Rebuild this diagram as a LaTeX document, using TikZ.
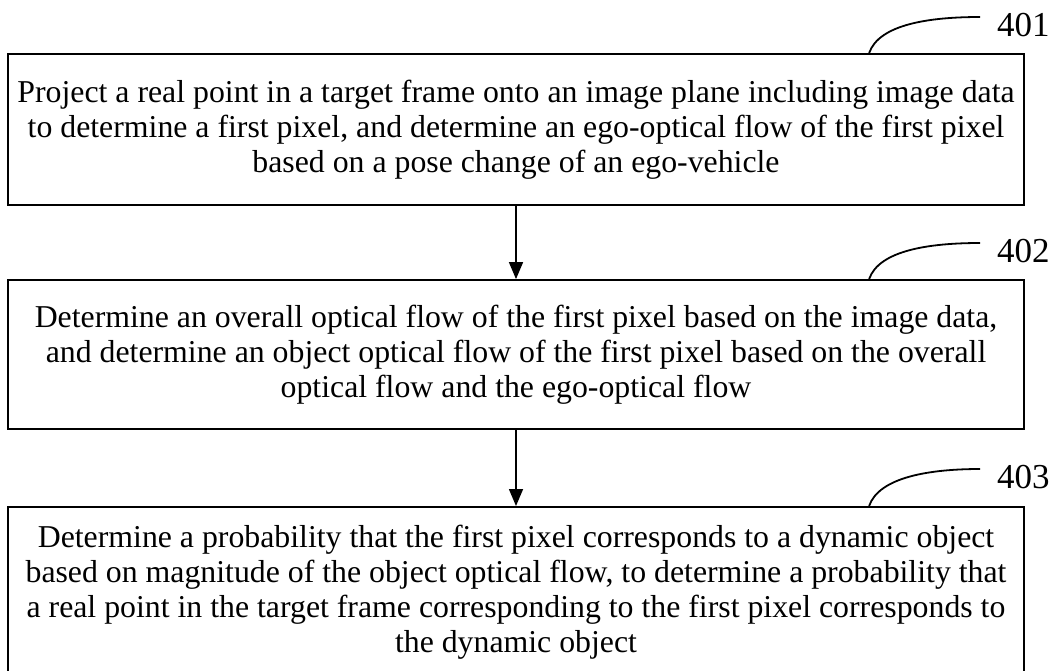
\documentclass[tikz,border=0pt]{standalone}
\usepackage{fontspec}
\setmainfont{Liberation Serif}
\usetikzlibrary{arrows.meta,calc}
\newcommand\boxfont{\fontsize{31.8}{35}\selectfont}
\newcommand\tagfont{\fontsize{35}{40}\selectfont}
\begin{document}
\begin{tikzpicture}[x=1pt,y=-1pt,
  stepbox/.style={draw=black, line width=1.8pt, inner sep=0pt, minimum width=1016pt, align=center, font=\boxfont},
  tag/.style={inner sep=0pt, anchor=west, font=\tagfont},
  flow/.style={line width=1.5pt, -{Triangle[length=17pt,width=14pt]}},
  lead/.style={line width=1.8pt}]
\useasboundingbox (0,0) rectangle (1055,670);
\node[stepbox, minimum height=151pt] (b1) at (516,129.5) {Project a real point in a target frame onto an image plane including image data\\ to determine a first pixel, and determine an ego-optical flow of the first pixel\\ based on a pose change of an ego-vehicle};
\node[stepbox, minimum height=149pt] (b2) at (516,354.5) {Determine an overall optical flow of the first pixel based on the image data,\\ and determine an object optical flow of the first pixel based on the overall\\ optical flow and the ego-optical flow};
\node[stepbox, minimum height=170pt, anchor=north] (b3) at (516,506) {Determine a probability that the first pixel corresponds to a dynamic object\\ based on magnitude of the object optical flow, to determine a probability that\\ a real point in the target frame corresponding to the first pixel corresponds to\\ the dynamic object};
\node[tag] (t1) at (997,25) {401};
\node[tag] (t2) at (997,251) {402};
\node[tag] (t3) at (997,477) {403};
\coordinate (e1) at ($(t1.west)+(-17,-8)$);
\coordinate (e2) at ($(t2.west)+(-17,-8)$);
\coordinate (e3) at ($(t3.west)+(-17,-8)$);
\draw[lead] ($(b1.north west)+(862,0)$) .. controls +(10,-29) and +(-50,0) .. (e1);
\draw[lead] ($(b2.north west)+(862,0)$) .. controls +(10,-29) and +(-50,0) .. (e2);
\draw[lead] ($(b3.north west)+(862,0)$) .. controls +(10,-29) and +(-50,0) .. (e3);
\draw[flow] (b1) -- (b2);
\draw[flow] (b2) -- (b3);
\end{tikzpicture}
\end{document}
